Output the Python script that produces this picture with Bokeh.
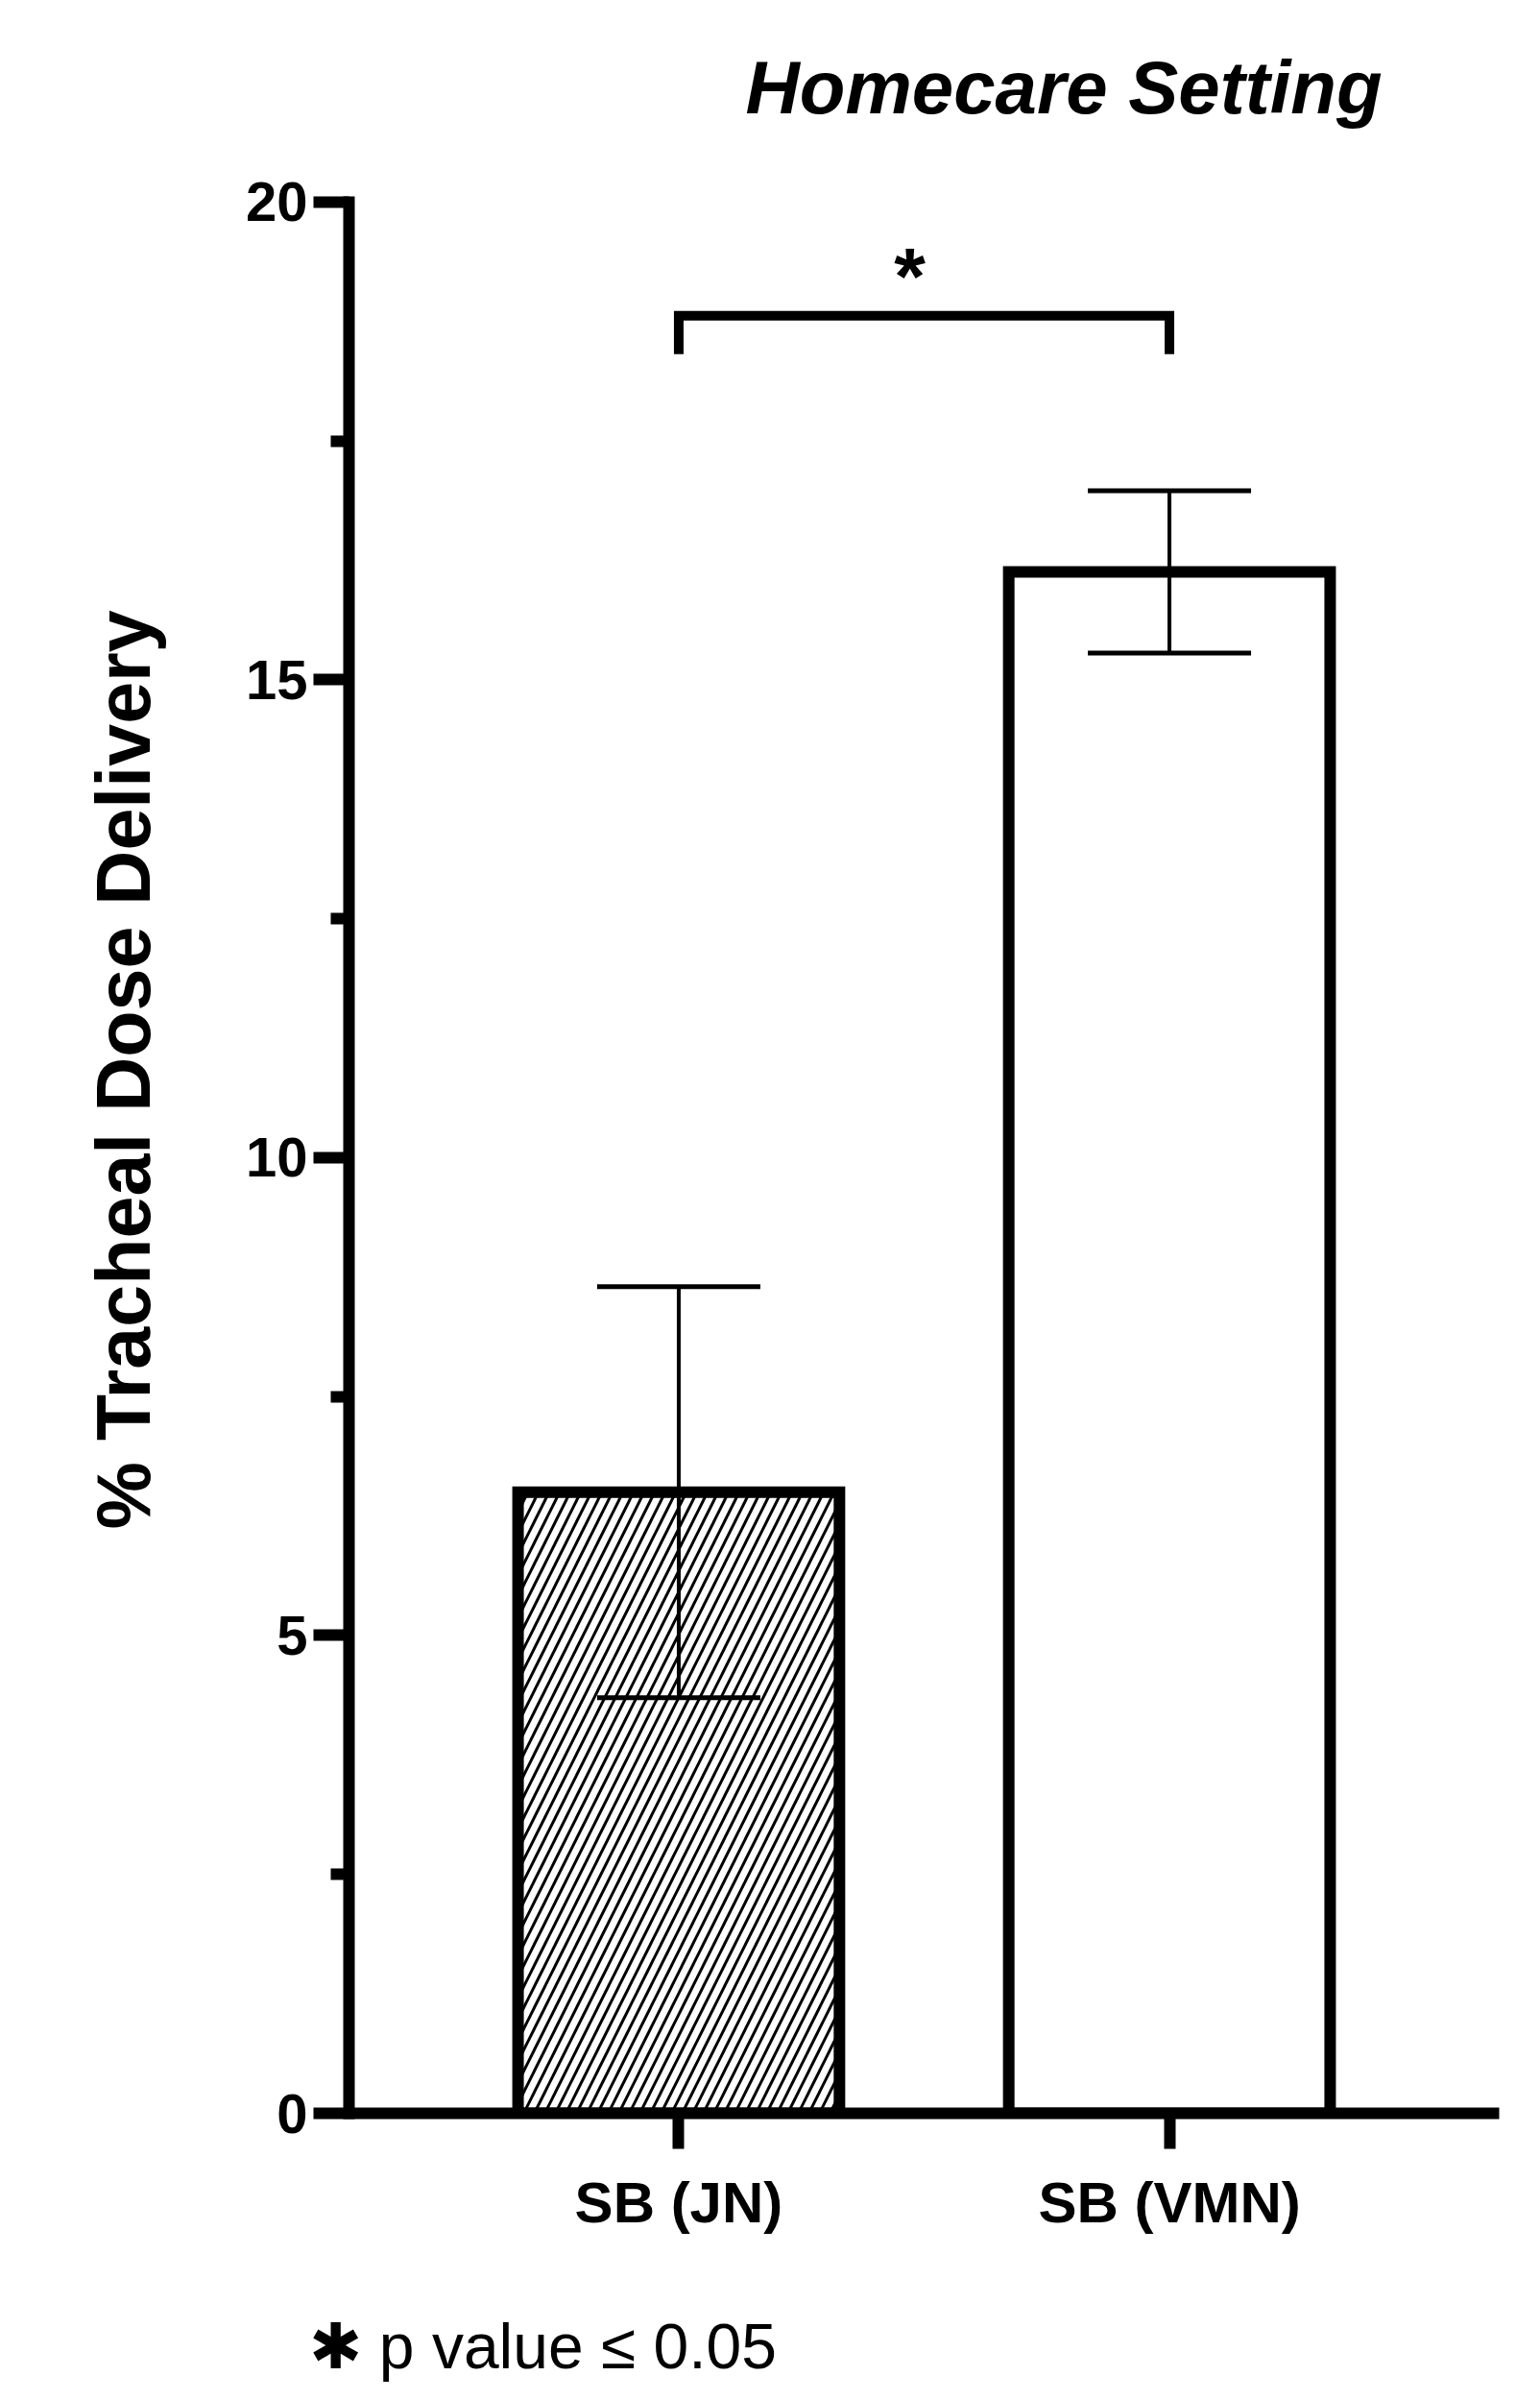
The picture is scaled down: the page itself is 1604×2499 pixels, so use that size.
from bokeh.plotting import figure
from bokeh.models import (FactorRange, Range1d, FixedTicker, Whisker, TeeHead,
                          Label, Title, ColumnDataSource)
from bokeh.core.properties import field
from bokeh.embed import file_html
from bokeh.resources import INLINE

# ---- data -------------------------------------------------------------
categories = ["SB (JN)", "SB (VMN)"]
means = [6.5, 16.13]
sds = [2.15, 0.85]
hatches = ["/", " "]
y_ticks = [0, 5, 10, 15, 20]
y_minor = [2.5, 7.5, 12.5, 17.5]
y_axis_span = (0, 20)
title_text = "Homecare Setting"
y_label = "% Tracheal Dose Delivery"
sig_pair = ["SB (JN)", "SB (VMN)"]
sig_level = 18.81
sig_leg = 18.41
sig_mark = "*"
footnote_text = "\u2731 p value \u2264 0.05"

FONT = "Liberation Sans"

# frame runs from the canvas top down to y = 0; the y axis itself is bounded to 0..20
p = figure(width=1596, height=2495, title=None,
           x_range=FactorRange(factors=categories, range_padding=0.172),
           y_range=Range1d(0, 22.11),
           output_backend="svg", toolbar_location=None,
           min_border_left=363, min_border_right=35,
           min_border_top=0, min_border_bottom=295)
p.xgrid.visible = False
p.ygrid.visible = False
p.outline_line_color = None
p.background_fill_color = "white"
p.border_fill_color = "white"

# y axis
yax = p.yaxis[0]
yax.bounds = y_axis_span
yax.ticker = FixedTicker(ticks=y_ticks, minor_ticks=y_minor)
yax.axis_line_width = 12
yax.axis_line_color = "black"
yax.axis_line_cap = "square"
yax.major_tick_line_width = 12
yax.major_tick_line_color = "black"
yax.major_tick_out = 37
yax.major_tick_in = 0
yax.minor_tick_line_width = 12
yax.minor_tick_line_color = "black"
yax.minor_tick_out = 19
yax.minor_tick_in = 0
yax.major_label_text_font = FONT
yax.major_label_text_font_style = "bold"
yax.major_label_text_font_size = "58px"
yax.major_label_text_color = "black"
yax.major_label_standoff = 6

# x axis
xax = p.xaxis[0]
xax.axis_line_width = 12
xax.axis_line_color = "black"
xax.major_tick_line_width = 12
xax.major_tick_line_color = "black"
xax.major_tick_out = 37
xax.major_tick_in = 0
xax.minor_tick_line_color = None
xax.major_label_text_font = FONT
xax.major_label_text_font_style = "bold"
xax.major_label_text_font_size = "60px"
xax.major_label_text_color = "black"
xax.major_label_standoff = 22
xax.major_label_orientation = "horizontal"

src = ColumnDataSource(dict(
    x=categories, top=means,
    upper=[m + s for m, s in zip(means, sds)],
    lower=[m - s for m, s in zip(means, sds)],
    hatch=hatches))

p.vbar(x="x", top="top", bottom=0, width=0.655, source=src,
       fill_color="white", line_color="black", line_width=12,
       line_join="miter",
       hatch_pattern=field("hatch"), hatch_color="black",
       hatch_scale=22, hatch_weight=3)

w = Whisker(source=src, base="x", upper="upper", lower="lower",
            line_width=4, line_color="black", level="overlay",
            upper_head=TeeHead(size=170, line_width=5, line_color="black"),
            lower_head=TeeHead(size=170, line_width=5, line_color="black"))
p.add_layout(w)

# significance bracket
p.multi_line(xs=[[sig_pair[0], sig_pair[0], sig_pair[1], sig_pair[1]]],
             ys=[[sig_leg, sig_level, sig_level, sig_leg]],
             line_width=10, line_color="black", line_join="miter")

p.add_layout(Label(x=0.971, y=19.22, text=sig_mark, text_font=FONT,
                   text_font_style="bold", text_font_size="84px",
                   text_align="center", text_baseline="middle",
                   text_color="black"))

# title
p.add_layout(Label(x=0.636, y=21.2, text=title_text, text_font=FONT,
                   text_font_style="bold italic", text_font_size="78px",
                   text_align="left", text_baseline="alphabetic",
                   text_color="black"))

# y-axis label as a side title (placed along the axis with an offset)
p.add_layout(Title(text=y_label, align="left", offset=608, standoff=160,
                   text_font=FONT, text_font_style="bold",
                   text_font_size="79px", text_color="black"), "left")

# footnote (below); the empty first line pushes it further down
p.add_layout(Title(text="\n" + footnote_text, align="left", offset=-42,
                   standoff=0, text_line_height=1.0,
                   text_font=FONT, text_font_style="normal",
                   text_font_size="66px", text_color="black"), "below")

open("out.html", "w").write(file_html(p, INLINE))
